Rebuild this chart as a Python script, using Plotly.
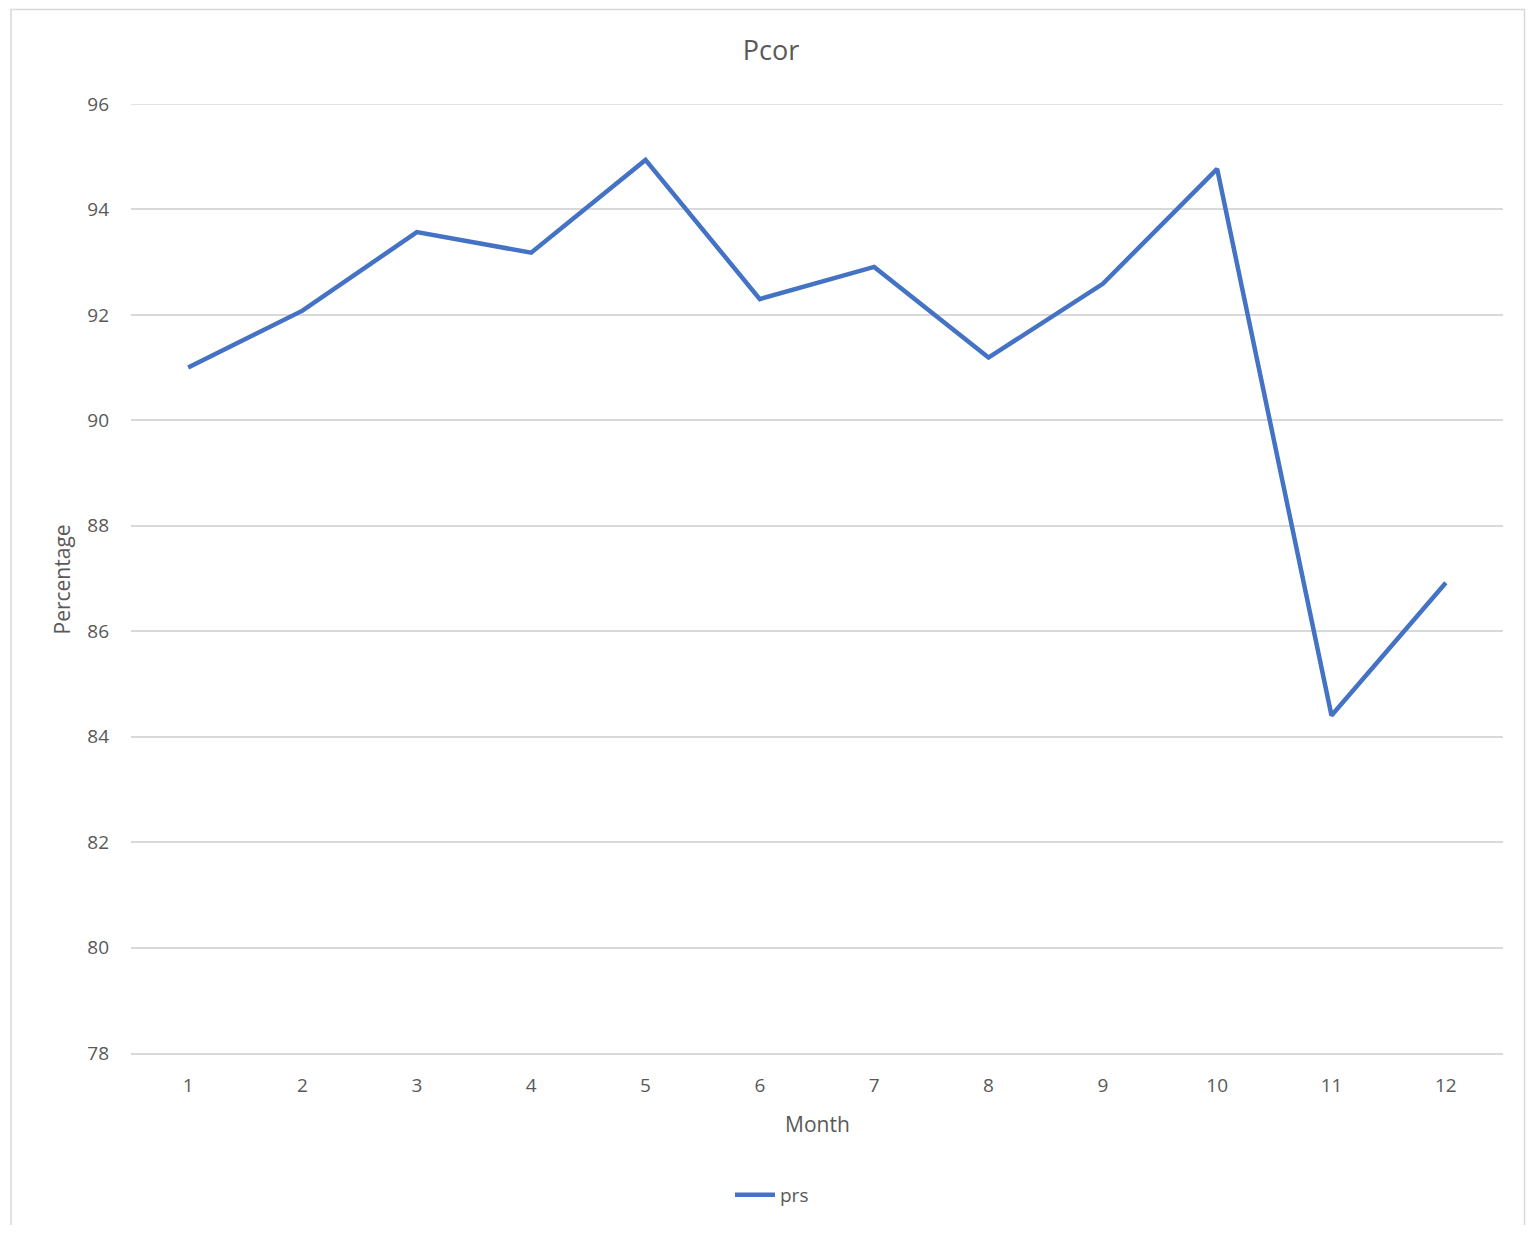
import plotly.graph_objects as go

months = [1, 2, 3, 4, 5, 6, 7, 8, 9, 10, 11, 12]
prs = [91.0, 92.08, 93.57, 93.18, 94.94, 92.30, 92.91, 91.19, 92.59, 94.77, 84.40, 86.92]
y_ticks = [78, 80, 82, 84, 86, 88, 90, 92, 94, 96]

W, H = 1518, 1217
OFF = 8  # page offset of the figure
L, R, T, B = 131 - OFF, 1503 - OFF, 104 - OFF, 1054 - OFF
pw, ph = R - L, B - T

def px(x):
    return (x - OFF - L) / pw

def py(y):
    return (B - (y - OFF)) / ph

font = "Open Sans, Liberation Sans, sans-serif"
grey = "#595959"
grid = "#D9D9D9"

fig = go.Figure()
fig.add_trace(go.Scatter(
    x=months, y=prs, mode="lines", name="prs",
    line=dict(color="#4472C4", width=4.5),
))

fig.update_layout(
    width=W, height=H,
    margin=dict(l=L, r=W - R, t=T, b=H - B),
    paper_bgcolor="white", plot_bgcolor="white",
    font=dict(family=font, color=grey, size=17),
    title=dict(text="Pcor", x=(771 - OFF) / W, xref="container", xanchor="center",
               y=1 - (51 - OFF) / H, yref="container", yanchor="middle",
               font=dict(size=27, color=grey, family=font)),
    showlegend=True,
    legend=dict(orientation="h", x=px(772), xanchor="center", y=py(1195), yanchor="middle",
                font=dict(size=19, color=grey), itemwidth=40),
    xaxis=dict(range=[0.5, 12.5], tickmode="array", tickvals=months,
               ticktext=[str(m) for m in months], showgrid=False, zeroline=False,
               showline=True, linecolor=grid, linewidth=1.5, ticks="",
               ticklabelstandoff=14, tickfont=dict(size=19, color=grey)),
    yaxis=dict(range=[78, 96], tickmode="array", tickvals=y_ticks,
               showgrid=True, gridcolor=grid, gridwidth=1.5, zeroline=False,
               showline=False, ticks="", ticklabelstandoff=21,
               tickfont=dict(size=19, color=grey)),
    annotations=[
        dict(text="Month", x=px(817), y=py(1125), xref="paper", yref="paper",
             showarrow=False, font=dict(size=21, color=grey), xanchor="center", yanchor="middle"),
        dict(text="Percentage", x=px(62), y=py(580), xref="paper", yref="paper",
             showarrow=False, textangle=-90, font=dict(size=21, color=grey),
             xanchor="center", yanchor="middle"),
    ],
    shapes=[
        dict(type="rect", xref="paper", yref="paper",
             x0=px(11), x1=px(1524.5), y0=py(1250), y1=py(9.5),
             line=dict(color="#D9D9D9", width=1.5), fillcolor="rgba(0,0,0,0)", layer="below"),
        dict(type="line", xref="paper", yref="y", x0=0, x1=1, y0=y_ticks[-1], y1=y_ticks[-1],
             line=dict(color=grid, width=1.5), layer="below"),
    ],
)

fig.write_html("out.html")
